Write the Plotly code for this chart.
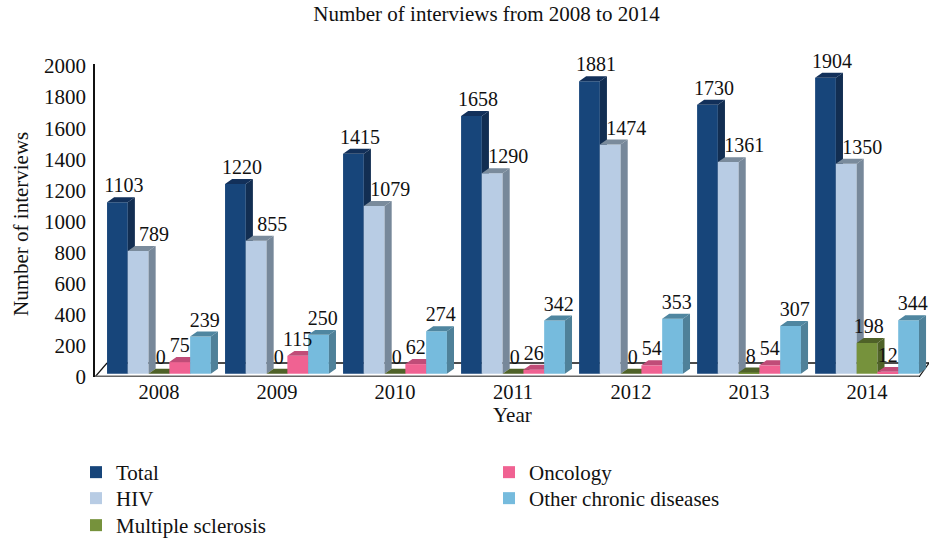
import plotly.graph_objects as go

years = ["2008", "2009", "2010", "2011", "2012", "2013", "2014"]
total = [1103, 1220, 1415, 1658, 1881, 1730, 1904]
hiv = [789, 855, 1079, 1290, 1474, 1361, 1350]
ms = [0, 0, 0, 0, 0, 8, 198]
oncology = [75, 115, 62, 26, 54, 54, 12]
other = [239, 250, 274, 342, 353, 307, 344]

series = [
    ("Total", total, "#17457A", "#122E52", "#12305A", 0.055, 76, 473),
    ("HIV", hiv, "#B8CCE4", "#77889A", "#7A8B9C", 0.135, 76, 499),
    ("Multiple sclerosis", ms, "#76923C", "#4F6228", "#4F6228", 0.015, 76, 526),
    ("Oncology", oncology, "#F06292", "#B84A72", "#C04C78", 0.0, 489, 473),
    ("Other chronic diseases", other, "#76BBDD", "#4F8199", "#4F86A0", 0.035, 489, 499),
]

FONT = "Liberation Serif"
INK = "#111111"
W, H = 929, 539
BAR_W = 0.176
START = -0.44
DX = 0.06
DY = 32
BASE = 8
Y_RANGE = [-13, 2000]
X_RANGE = [-0.542, 6.525]
xs = list(range(len(years)))
fig = go.Figure()

fig.add_trace(go.Scatter(x=[-0.44, 6.525], y=[77, 77], mode="lines", showlegend=False,
                         line=dict(color=INK, width=1.5), hoverinfo="skip", cliponaxis=False))
fig.add_trace(go.Scatter(x=[-0.542, -0.44, None, 6.44, 6.525], y=[-13, 77, None, -13, 77],
                         mode="lines", showlegend=False,
                         line=dict(color=INK, width=1.2), hoverinfo="skip", cliponaxis=False))
fig.add_trace(go.Scatter(x=[-0.542, 6.44], y=[-13, -13], mode="lines", showlegend=False,
                         line=dict(color="#666666", width=3), hoverinfo="skip", cliponaxis=False))

lab_x, lab_y, lab_t = [], [], []
legends = {}
for i, (name, vals, front, side, top, lab_off, leg_x, leg_y) in enumerate(series):
    ya = f"y{i + 2}"
    offs = START + i * BAR_W
    lg = "legend" if i == 0 else f"legend{i + 1}"
    legends[lg] = dict(xref="container", yref="container", xanchor="left", yanchor="top",
                       x=leg_x / W, y=1 - (leg_y - 21) / H, bgcolor="rgba(0,0,0,0)",
                       font=dict(family=FONT, size=21, color=INK))
    fig.add_trace(go.Bar(x=xs, y=vals, base=BASE, width=BAR_W, offset=offs, name=name,
                         marker=dict(color=front, line=dict(width=0)), yaxis=ya,
                         legend=lg, showlegend=True))
    sx, sy, tx, ty = [], [], [], []
    for x, v in zip(xs, vals):
        x0 = x + offs
        x1 = x0 + BAR_W
        h = v + BASE
        sx += [x1, x1 + DX, x1 + DX, x1, x1, None]
        sy += [BASE, BASE + DY, h + DY, h, BASE, None]
        tx += [x0, x1, x1 + DX, x0 + DX, x0, None]
        ty += [h, h, h + DY, h + DY, h, None]
        lab_x.append(x0 + BAR_W / 2 + lab_off)
        lab_y.append(h + DY)
        lab_t.append(str(v))
    for px, py, col in ((sx, sy, side), (tx, ty, top)):
        fig.add_trace(go.Scatter(x=px, y=py, mode="lines", fill="toself", fillcolor=col,
                                 line=dict(width=0, color=col), showlegend=False,
                                 hoverinfo="skip", yaxis=ya))

fig.add_trace(go.Scatter(x=lab_x, y=lab_y, text=lab_t, mode="text", textposition="top center",
                         textfont=dict(family=FONT, size=20, color=INK), cliponaxis=False,
                         showlegend=False, hoverinfo="skip", yaxis="y7"))

overlay = dict(range=Y_RANGE, overlaying="y", visible=False, fixedrange=True)
fig.update_layout(
    width=W, height=H, autosize=False, showlegend=True,
    paper_bgcolor="white", plot_bgcolor="white",
    margin=dict(l=95, r=0, t=64, b=539 - 377, autoexpand=False),
    font=dict(family=FONT, size=20, color=INK),
    title=dict(text="Number of interviews from 2008 to 2014", x=486.5 / W, xanchor="center",
               y=1 - 14 / H, yanchor="middle", font=dict(family=FONT, size=21, color=INK)),
    xaxis=dict(range=X_RANGE, tickmode="array", tickvals=xs, ticktext=years, showgrid=False,
               zeroline=False, showline=False, ticks="", ticklabelstandoff=0, tickangle=0,
               tickfont=dict(family=FONT, size=20.5, color=INK), fixedrange=True),
    yaxis=dict(range=Y_RANGE, tickmode="array", tickvals=list(range(0, 2001, 200)), showgrid=False,
               zeroline=False, showline=True, linecolor=INK, linewidth=1.5, ticks="outside",
               tickfont=dict(family=FONT, size=21, color=INK), ticklabelshift=2,
               ticklen=3, tickcolor="rgba(0,0,0,0)", fixedrange=True),
    yaxis2=overlay, yaxis3=overlay, yaxis4=overlay, yaxis5=overlay, yaxis6=overlay, yaxis7=overlay,
    annotations=[
        dict(text="Year", xref="paper", yref="paper", x=(512 - 95) / (W - 95), y=(539 - 415 - 162) / (H - 64 - 162),
             showarrow=False, xanchor="center", yanchor="middle", font=dict(family=FONT, size=21, color=INK)),
        dict(text="Number of interviews", xref="paper", yref="paper", x=(21 - 95) / (W - 95),
             y=(539 - 224 - 162) / (H - 64 - 162), textangle=-90, showarrow=False,
             xanchor="center", yanchor="middle", font=dict(family=FONT, size=21, color=INK)),
    ],
    **legends,
)
fig.write_html("out.html", config={"displayModeBar": False},
               post_script="document.body.style.margin='0';")
